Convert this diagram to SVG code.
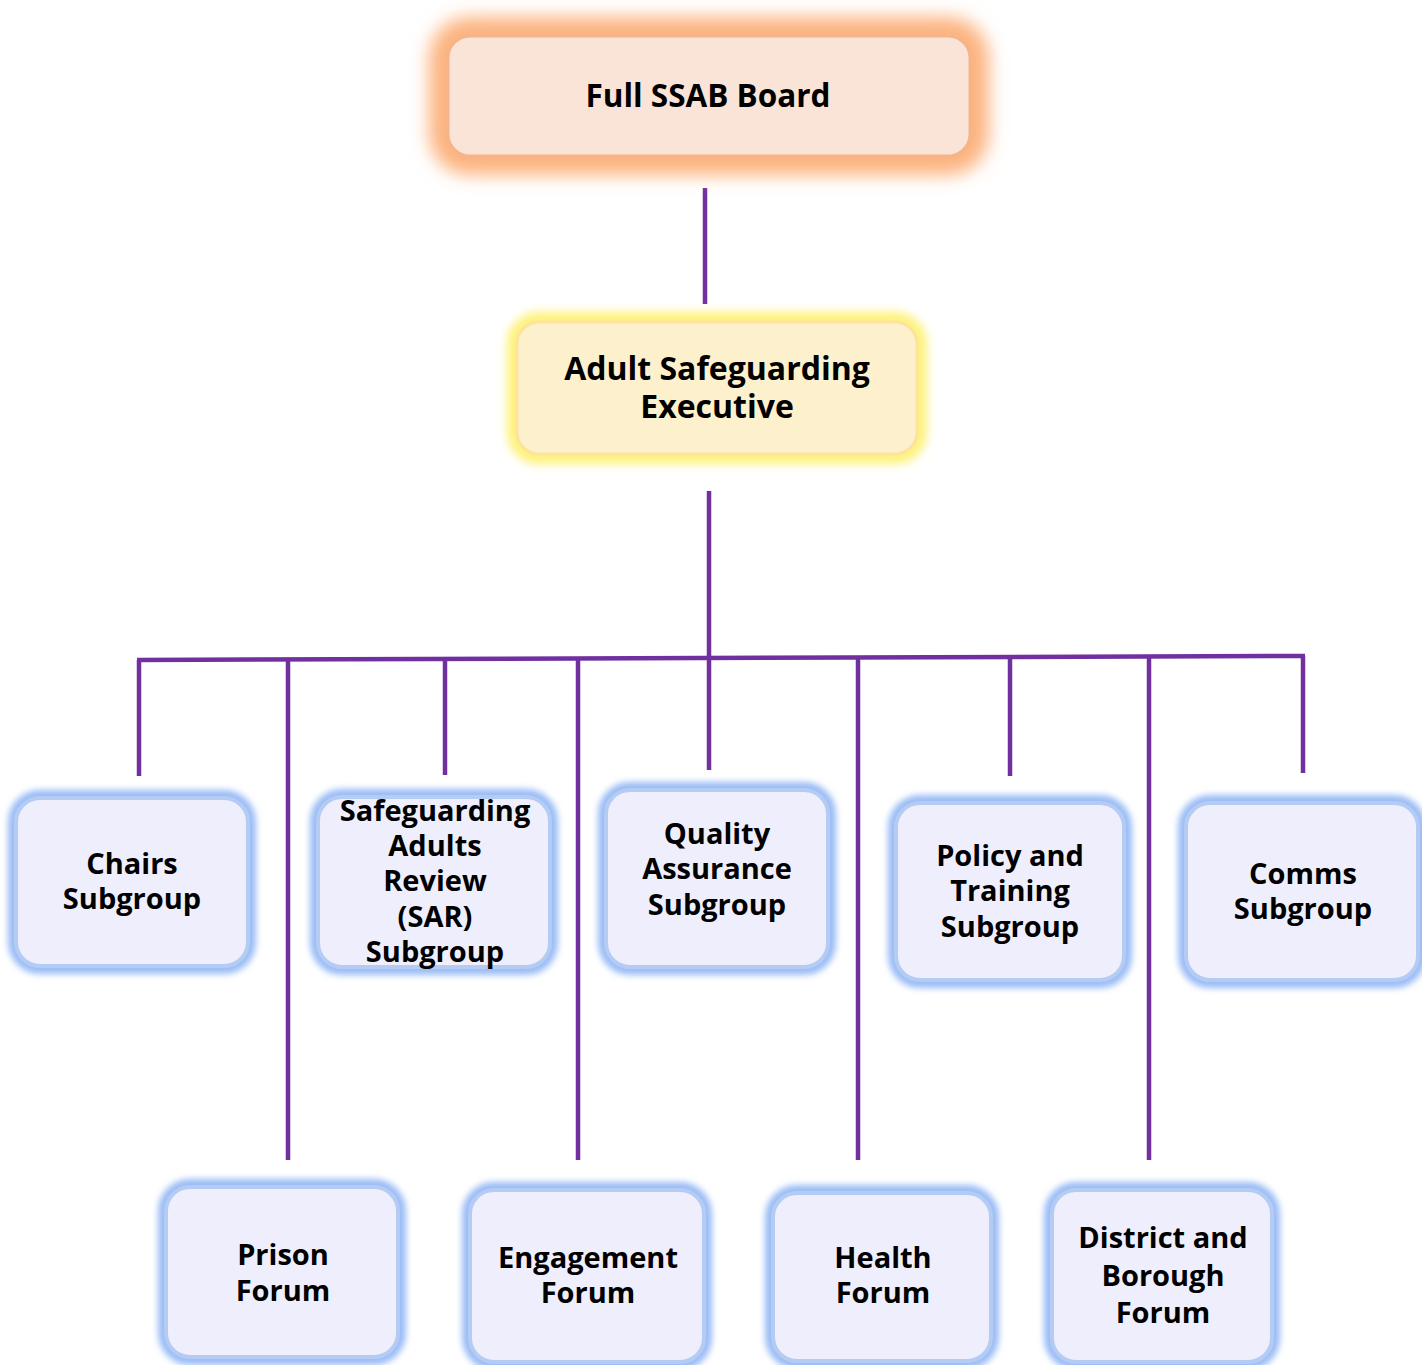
<svg xmlns="http://www.w3.org/2000/svg" width="1422" height="1365" viewBox="0 0 1422 1365">
<defs>
<filter id="blurO" x="-30%" y="-60%" width="160%" height="220%"><feGaussianBlur stdDeviation="9"/></filter>
<filter id="blurY" x="-30%" y="-60%" width="160%" height="220%"><feGaussianBlur stdDeviation="5"/></filter>
<filter id="blurB" x="-30%" y="-30%" width="160%" height="160%"><feGaussianBlur stdDeviation="3"/></filter>
</defs>
<style>
text{font-family:"Open Sans","Noto Sans","DejaVu Sans",sans-serif;font-weight:bold;fill:#000;text-anchor:middle}
.t{font-size:31.5px}
.e{font-size:32px}
.s{font-size:29px}
.conn{stroke:#7030a0;stroke-width:4.5;fill:none}
.gO{fill:none;stroke:#fcb27e;stroke-width:38}
.gY{fill:none;stroke:#fdf27a;stroke-width:20}
.gB{fill:none;stroke:#9abcf6;stroke-width:16}
.nO{fill:#fae4d8;stroke:#f5b48a;stroke-width:3}
.nY{fill:#fdf0cc;stroke:#fde39c;stroke-width:3}
.nB{fill:#eeeefc;stroke:#b4ccf3;stroke-width:4}
</style>
<rect width="1422" height="1365" fill="#fff"/>
<g id="connectors">
<line class="conn" x1="705" y1="188" x2="705" y2="304"/>
<line class="conn" x1="709" y1="491" x2="709" y2="770"/>
<line class="conn" x1="137" y1="660" x2="1305" y2="656"/>
<line class="conn" x1="139" y1="660" x2="139" y2="776"/>
<line class="conn" x1="288" y1="660" x2="288" y2="1160"/>
<line class="conn" x1="445" y1="660" x2="445" y2="775"/>
<line class="conn" x1="578" y1="659" x2="578" y2="1160"/>
<line class="conn" x1="858" y1="658" x2="858" y2="1160"/>
<line class="conn" x1="1010" y1="658" x2="1010" y2="776"/>
<line class="conn" x1="1149" y1="657" x2="1149" y2="1160"/>
<line class="conn" x1="1303" y1="656" x2="1303" y2="773"/>
</g>
<g id="full-ssab-board">
<rect class="gO" x="448" y="36" width="522" height="120" rx="22" filter="url(#blurO)"/>
<rect class="nO" x="448" y="36" width="522" height="120" rx="22"/>
<text class="t" x="708" y="107">Full SSAB Board</text>
</g>
<g id="adult-safeguarding-executive">
<rect class="gY" x="517" y="322" width="400" height="132" rx="22" filter="url(#blurY)"/>
<rect class="nY" x="517" y="322" width="400" height="132" rx="22"/>
<text class="e" x="717" y="380">Adult Safeguarding</text>
<text class="e" x="717" y="418">Executive</text>
</g>
<g id="chairs-subgroup">
<rect class="gB" x="16" y="798" width="232" height="168" rx="24" filter="url(#blurB)"/>
<rect class="nB" x="16" y="798" width="232" height="168" rx="24"/>
<text class="s" x="132" y="874">Chairs</text>
<text class="s" x="132" y="909">Subgroup</text>
</g>
<g id="sar-subgroup">
<rect class="gB" x="318" y="797" width="232" height="170" rx="24" filter="url(#blurB)"/>
<rect class="nB" x="318" y="797" width="232" height="170" rx="24"/>
<text class="s" x="435" y="821">Safeguarding</text>
<text class="s" x="435" y="856">Adults</text>
<text class="s" x="435" y="891">Review</text>
<text class="s" x="435" y="927">(SAR)</text>
<text class="s" x="435" y="962">Subgroup</text>
</g>
<g id="quality-assurance-subgroup">
<rect class="gB" x="606" y="790" width="222" height="177" rx="24" filter="url(#blurB)"/>
<rect class="nB" x="606" y="790" width="222" height="177" rx="24"/>
<text class="s" x="717" y="844">Quality</text>
<text class="s" x="717" y="879">Assurance</text>
<text class="s" x="717" y="915">Subgroup</text>
</g>
<g id="policy-training-subgroup">
<rect class="gB" x="896" y="803" width="228" height="177" rx="24" filter="url(#blurB)"/>
<rect class="nB" x="896" y="803" width="228" height="177" rx="24"/>
<text class="s" x="1010" y="866">Policy and</text>
<text class="s" x="1010" y="901">Training</text>
<text class="s" x="1010" y="937">Subgroup</text>
</g>
<g id="comms-subgroup">
<rect class="gB" x="1186" y="803" width="232" height="177" rx="24" filter="url(#blurB)"/>
<rect class="nB" x="1186" y="803" width="232" height="177" rx="24"/>
<text class="s" x="1303" y="884">Comms</text>
<text class="s" x="1303" y="919">Subgroup</text>
</g>
<g id="prison-forum">
<rect class="gB" x="166" y="1187" width="232" height="170" rx="24" filter="url(#blurB)"/>
<rect class="nB" x="166" y="1187" width="232" height="170" rx="24"/>
<text class="s" x="283" y="1265">Prison</text>
<text class="s" x="283" y="1301">Forum</text>
</g>
<g id="engagement-forum">
<rect class="gB" x="470" y="1190" width="234" height="172" rx="24" filter="url(#blurB)"/>
<rect class="nB" x="470" y="1190" width="234" height="172" rx="24"/>
<text class="s" x="588" y="1268">Engagement</text>
<text class="s" x="588" y="1303">Forum</text>
</g>
<g id="health-forum">
<rect class="gB" x="773" y="1193" width="218" height="168" rx="24" filter="url(#blurB)"/>
<rect class="nB" x="773" y="1193" width="218" height="168" rx="24"/>
<text class="s" x="883" y="1268">Health</text>
<text class="s" x="883" y="1303">Forum</text>
</g>
<g id="district-borough-forum">
<rect class="gB" x="1052" y="1190" width="220" height="172" rx="24" filter="url(#blurB)"/>
<rect class="nB" x="1052" y="1190" width="220" height="172" rx="24"/>
<text class="s" x="1163" y="1248">District and</text>
<text class="s" x="1163" y="1286">Borough</text>
<text class="s" x="1163" y="1323">Forum</text>
</g>
</svg>
